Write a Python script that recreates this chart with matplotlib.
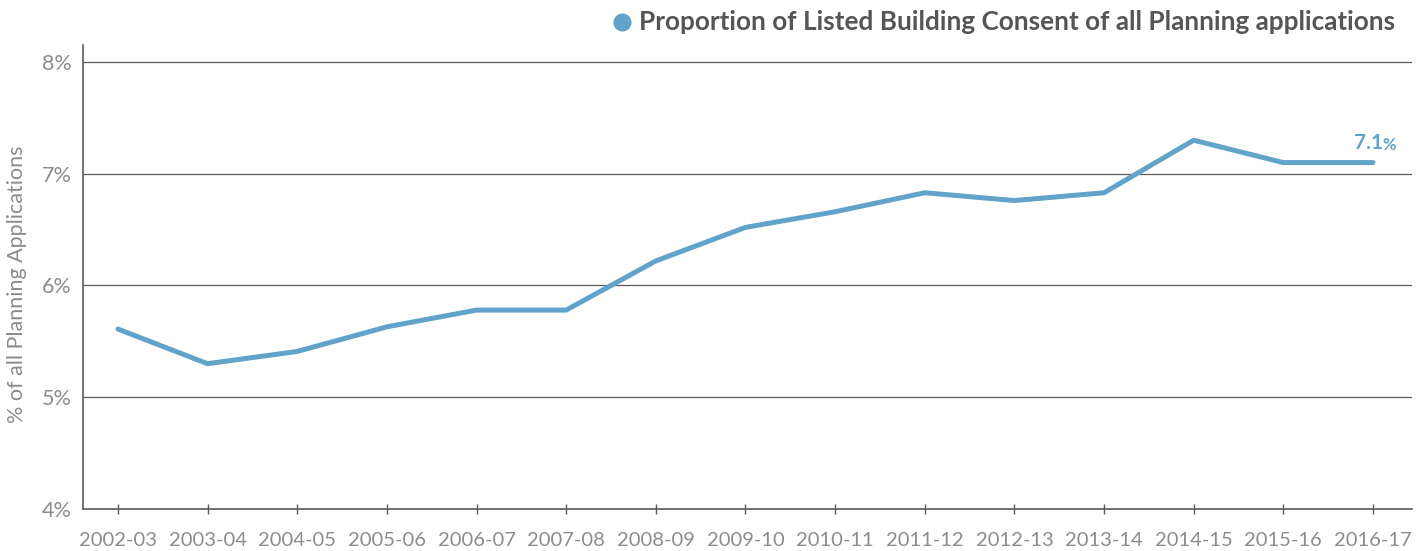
import matplotlib.pyplot as plt
from matplotlib.lines import Line2D

years = ["2002-03", "2003-04", "2004-05", "2005-06", "2006-07", "2007-08", "2008-09",
         "2009-10", "2010-11", "2011-12", "2012-13", "2013-14", "2014-15", "2015-16", "2016-17"]
lbc_share = [5.61, 5.30, 5.41, 5.63, 5.78, 5.78, 6.22, 6.52, 6.66, 6.83, 6.76, 6.83, 7.30, 7.10, 7.10]
y_ticks = [4, 5, 6, 7, 8]

blue = "#62a3c9"
grey_txt = "#8c8c8c"
grid_col = "#5a5a5a"

plt.rcParams['font.family'] = ['Lato', 'DejaVu Sans']

fig = plt.figure(figsize=(14.27, 5.51), dpi=100)
ax = fig.add_axes([83/1427, 1 - 509/551, (1412 - 83)/1427, (509 - 45)/551])

x = list(range(len(years)))
ax.plot(x, lbc_share, color=blue, lw=3.6, solid_capstyle='round', solid_joinstyle='round', zorder=3)

ax.set_xlim(-0.39, 14.435)
ax.set_ylim(4, 8.152)
ax.set_yticks(y_ticks)
ax.set_yticklabels([f"{t}%" for t in y_ticks])
ax.set_xticks(x)
ax.set_xticklabels(years)

for t in y_ticks[1:]:
    ax.axhline(t, color=grid_col, lw=0.9, zorder=1)

for s in ["top", "right"]:
    ax.spines[s].set_visible(False)
ax.spines["left"].set_color(grid_col)
ax.spines["bottom"].set_color(grid_col)
ax.spines["left"].set_linewidth(1.2)
ax.spines["bottom"].set_linewidth(1.2)

ax.tick_params(axis='y', length=0, pad=8, labelsize=15.5, labelcolor=grey_txt)
ax.tick_params(axis='x', direction='inout', length=7, width=1, color=grid_col,
               pad=13, labelsize=14.5, labelcolor=grey_txt)

ax.set_ylabel("% of all Planning Applications", fontsize=15.5, color=grey_txt)
ax.yaxis.set_label_coords(-0.042, 0.485)

# end label
last = len(years) - 1
ax.annotate("7.1", xy=(last, lbc_share[-1]), xytext=(7, 7), textcoords='offset points',
            ha='right', va='bottom', color=blue, fontsize=15, fontweight='bold')
ax.annotate("%", xy=(last, lbc_share[-1]), xytext=(7, 7), textcoords='offset points',
            ha='left', va='bottom', color=blue, fontsize=12, fontweight='bold')

# legend
fig.text(1395/1427, 1 - 22/551, "Proportion of Listed Building Consent of all Planning applications",
         ha='right', va='center', fontsize=18.8, fontweight='bold', color="#555555")
fig.add_artist(Line2D([622/1427], [1 - 22/551], marker='o', markersize=12, color=blue,
                      transform=fig.transFigure))

fig.savefig("out.png", dpi=100)
